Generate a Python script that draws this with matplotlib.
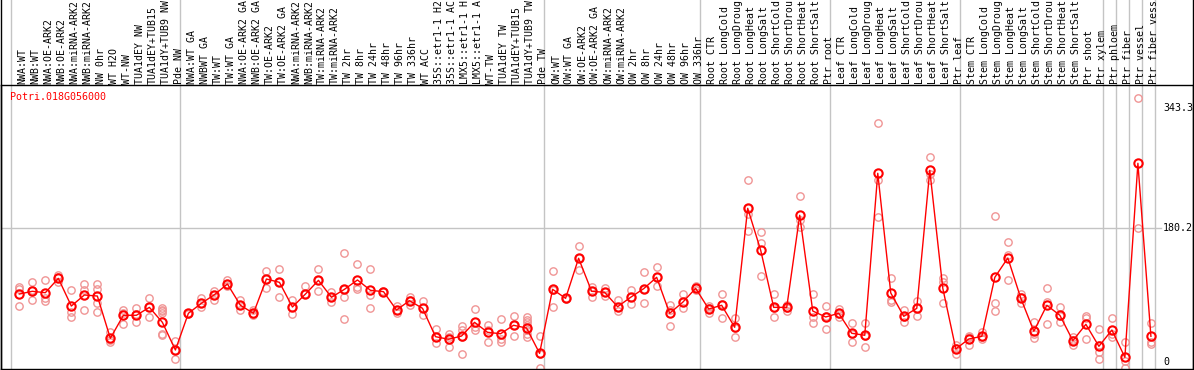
import matplotlib
matplotlib.use("Agg")
import matplotlib.pyplot as plt
import matplotlib.transforms as mtransforms

gene = "Potri.018G056000"

samples = [
    "NWA:WT", "NWB:WT", "NWA:OE-ARK2", "NWB:OE-ARK2", "NWA:miRNA-ARK2", "NWB:miRNA-ARK2",
    "NW 0hr", "WT H2O", "WT-NW", "TUA1dEY NW", "TUA1dEY+TUB15", "TUA1dY+TUB9 NW", "Pde NW",
    "NWA:WT GA", "NWBWT GA", "TW:WT", "TW:WT GA", "NWA:OE-ARK2 GA", "NWB:OE-ARK2 GA",
    "TW:OE-ARK2", "TW:OE-ARK2 GA", "NWA:miRNA-ARK2", "NWB:miRNA-ARK2", "TW:miRNA-ARK2",
    "TW:miRNA-ARK2", "TW 2hr", "TW 8hr", "TW 24hr", "TW 48hr", "TW 96hr", "TW 336hr",
    "WT ACC", "35S::etr1-1 H2", "35S::etr1-1 AC", "LMX5::etr1-1 H", "LMX5::etr1-1 A",
    "WT-TW", "TUA1dEY TW", "TUA1dEY+TUB15", "TUA1dY+TUB9 TW", "Pde TW",
    "OW:WT", "OW:WT GA", "OW:OE-ARK2", "OW:OE-ARK2 GA", "OW:miRNA-ARK2", "OW:miRNA-ARK2",
    "OW 2hr", "OW 8hr", "OW 24hr", "OW 48hr", "OW 96hr", "OW 336hr",
    "Root CTR", "Root LongCold", "Root LongDroug", "Root LongHeat", "Root LongSalt",
    "Root ShortCold", "Root ShortDrou", "Root ShortHeat", "Root ShortSalt", "Ptr root",
    "Leaf CTR", "Leaf LongCold", "Leaf LongDroug", "Leaf LongHeat", "Leaf LongSalt",
    "Leaf ShortCold", "Leaf ShortDrou", "Leaf ShortHeat", "Leaf ShortSalt", "Ptr leaf",
    "Stem CTR", "Stem LongCold", "Stem LongDroug", "Stem LongHeat", "Stem LongSalt",
    "Stem ShortCold", "Stem ShortDrou", "Stem ShortHeat", "Stem ShortSalt", "Ptr shoot",
    "Ptr xylem", "Ptr phloem", "Ptr fiber", "Ptr vessel", "Ptr fiber vess",
]

means = [
    91.4, 95.1, 93.2, 112.6, 75.2, 90.1, 88.7, 31.6, 62.7, 62.7, 73.4, 53.2, 15.8,
    65.4, 78.9, 90.5, 104.9, 76.2, 65.4, 111.7, 107.2, 73.9, 91.4, 109.9, 87.0,
    97.8, 110.4, 96.4, 94.6, 69.8, 82.4, 72.1, 33.8, 30.3, 34.7, 53.2, 39.7, 37.8,
    49.2, 45.5, 11.3,
    97.8, 85.6, 139.7, 95.1, 93.7, 74.3, 87.0, 98.6, 114.0, 65.4, 80.2, 99.1,
    71.2, 76.2, 46.5, 207.2, 150.5, 73.4, 73.4, 197.8, 68.5, 60.4,
    65.4, 38.4, 35.7, 254.5, 92.8, 61.3, 72.1, 258.5, 99.1, 17.2,
    30.7, 34.3, 114.0, 140.1, 85.6, 41.1, 76.2, 62.7, 28.4, 50.5, 20.8,
    42.8, 5.9, 268.0, 34.3,
]

replicates = [
    [101, 98, 75], [107, 97, 83], [111, 86, 82], [117, 115, 107], [97, 67, 61],
    [105, 97, 70], [105, 98, 79, 67], [40, 29, 27], [70, 66, 51], [73, 65, 53],
    [86, 74, 61], [72, 70, 68, 66, 38, 36], [28, 16, 3],
    [66, 65], [86, 79, 74], [96, 90, 84], [110, 105, 102], [83, 76, 70], [70, 65, 63],
    [122, 112, 99], [125, 108, 88], [83, 74, 64], [102, 91, 92], [125, 110, 95],
    [94, 87, 80], [147, 98, 88, 58], [132, 101, 98], [125, 90, 72], [96, 94],
    [75, 70, 66], [88, 83, 77], [82, 72, 63], [44, 34, 25], [37, 33, 20],
    [48, 43, 34, 10], [71, 47, 43], [49, 43, 26], [58, 30, 26], [62, 50, 35],
    [60, 57, 53, 49, 43, 38, 34], [35, 10, -9],
    [122, 97, 74], [86, 85], [156, 140, 124], [101, 96, 88], [100, 94, 89],
    [83, 74, 68], [97, 87, 78], [121, 98, 79], [128, 114, 102], [77, 70, 48],
    [91, 80, 72], [102, 99, 97],
    [75, 72, 66], [91, 78, 59], [59, 46, 33], [246, 207, 200, 177], [175, 161, 116],
    [91, 73, 60], [77, 73, 69], [224, 192, 182], [92, 61, 52], [75, 62, 44],
    [71, 65, 61], [52, 37, 27], [52, 35, 20], [323, 245, 196], [113, 84, 81],
    [70, 61, 53], [82, 72, 62], [276, 254, 246], [113, 108, 79], [23, 18, 11],
    [35, 33, 23], [40, 33, 30], [197, 79, 68], [162, 144, 110], [91, 87, 79],
    [54, 38, 32], [99, 81, 51], [74, 62, 53], [33, 29, 23], [62, 59, 31],
    [44, 22, 13, 3], [59, 37, 33], [27, 1, -9], [356, 180], [52, 27, 24],
]

group_ends = [-1, 12, 40, 52, 62, 72, 83, 84, 85, 86, 87]
ytick_values = [0, 180.2, 343.3]
ytick_labels = ["0", "180.2", "343.3"]

W, H = 1194, 370
fig = plt.figure(figsize=(W / 100, H / 100), dpi=100)
ax_left, ax_right, ax_top, ax_bottom = 1, 1193, 85, 369
ax = fig.add_axes([ax_left / W, 1 - ax_bottom / H, (ax_right - ax_left) / W,
                   (ax_bottom - ax_top) / H])

step = 13.007
x0px = 19.3
ax.set_xlim((ax_left - x0px) / step, (ax_right - x0px) / step)
ppu = 0.7403
zero_px = 361.7
ax.set_ylim((zero_px - ax_bottom) / ppu, (zero_px - ax_top) / ppu)
ax.set_xticks([])
ax.set_yticks([])
for s in ax.spines.values():
    s.set_color("black")
    s.set_linewidth(1.0)

mono = "DejaVu Sans Mono"
fs = 7.1
grid_c = "#c4c4c4"
axh = ax_bottom - ax_top

# group separators (extend into label area)
tr_xdata = mtransforms.blended_transform_factory(ax.transData, ax.transAxes)
for b in group_ends:
    xs = b + 0.5 - 0.165
    ax.plot([xs, xs], [0, 1 + ax_top / axh], color=grid_c, lw=1.0,
            transform=tr_xdata, clip_on=False, zorder=1)

# horizontal grid at middle value
xl = ax.get_xlim()
x_end = xl[0] + (1161 - ax_left) / (ax_right - ax_left) * (xl[1] - xl[0])
ax.plot([xl[0], x_end], [ytick_values[1]] * 2, color=grid_c, lw=1.0, zorder=1)

# y labels on right inside plot
tr_yaxis = mtransforms.blended_transform_factory(ax.transAxes, ax.transData)
for v, lab in zip(ytick_values, ytick_labels):
    ax.text((1163 - ax_left) / (ax_right - ax_left), v, lab, transform=tr_yaxis,
            ha="left", va="center", fontsize=7.2, family=mono, color="black")

# sample labels
lab_tr = mtransforms.offset_copy(tr_xdata, fig=fig, x=3.5, y=1.0, units="dots")
for i, lab in enumerate(samples):
    ax.text(i, 1.0, lab, transform=lab_tr, rotation=90, ha="center", va="bottom",
            fontsize=fs, family=mono, color="black", clip_on=False)

# replicates
for i, reps in enumerate(replicates):
    ax.plot([i] * len(reps), reps, "o", mfc="none", mec="#f09595", ms=5.3,
            mew=1.0, zorder=2, clip_on=False)

xs = list(range(len(means)))
ax.plot(xs, means, "-", color="red", lw=1.0, zorder=3)
ax.plot(xs, means, "o", mfc="none", mec="red", ms=6.0, mew=1.5, zorder=4)

fig.text(10 / W, 1 - 97 / H, gene, color="red", fontsize=7.2, family=mono,
         ha="left", va="center")

# figure border lines
for xpx in (ax_left, ax_right):
    fig.add_artist(plt.Line2D([xpx / W, xpx / W], [1 - ax_bottom / H, 1],
                              color="black", lw=1.0, transform=fig.transFigure))

fig.savefig("out.png", dpi=100)
